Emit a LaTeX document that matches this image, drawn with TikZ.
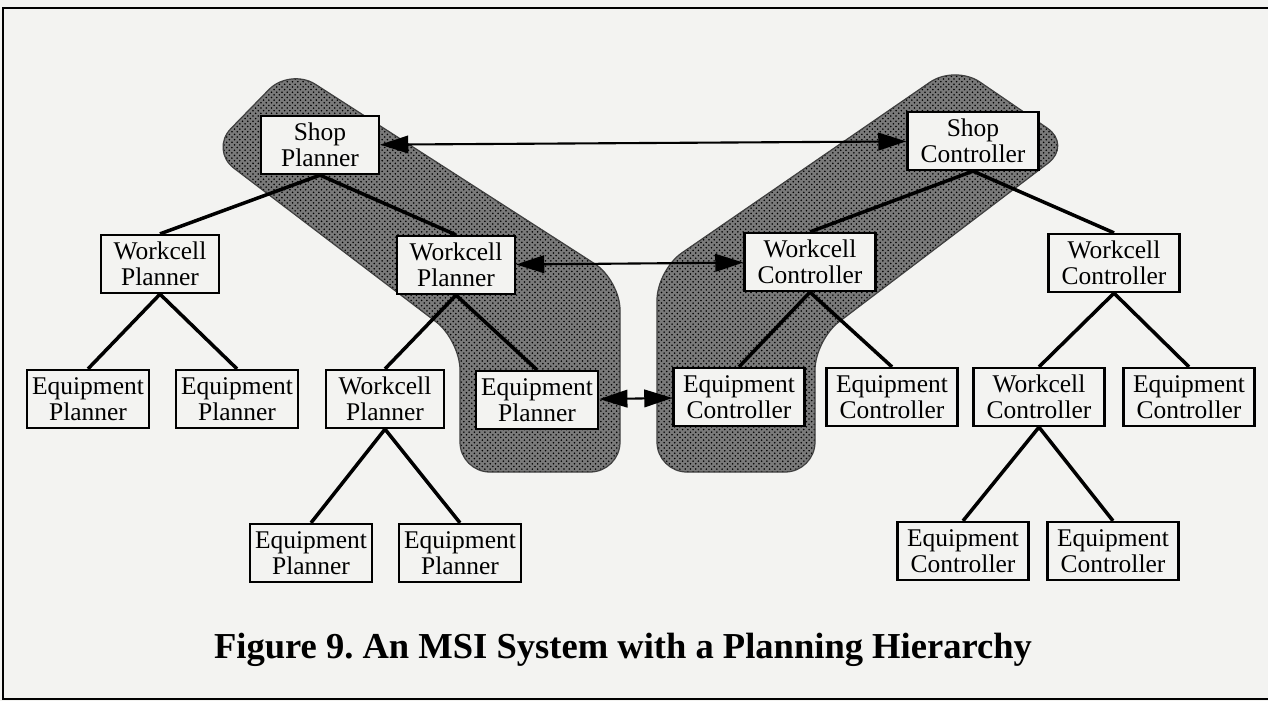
\documentclass[tikz,border=0pt]{standalone}
\usepackage{fontspec}
\setmainfont{Liberation Serif}
\usetikzlibrary{arrows.meta, patterns}
\definecolor{paper}{RGB}{243,243,241}
\tikzset{
    unit/.style={draw, line width=1.3pt, fill=paper, align=center, inner sep=3pt,
        minimum width=2.36cm, minimum height=1.16cm, font=\fontsize{14.5}{14.5}\selectfont},
    ctrlunit/.style={unit, minimum width=2.62cm},
    tree/.style={line width=2pt},
    link/.style={line width=1.2pt, {Triangle[length=16pt,width=10pt]}-{Triangle[length=16pt,width=10pt]}},
    zone/.style={rounded corners=0.6cm}
}

\begin{document}
\begin{tikzpicture}[x=0.02cm, y=-0.02cm]
        \useasboundingbox (0,0) rectangle (1268,701);
        \fill[paper] (0,0) rectangle (1268,701);
        \draw[line width=1.6pt] (1268,8) -- (3,8) -- (3,699) -- (1268,699);

        \fill[zone, black!52] (210,150) -- (290,68) -- (620,280) -- (620,472) -- (460,472) -- (460,340) -- cycle;
        \fill[zone, pattern=crosshatch dots, pattern color=black] (210,150) -- (290,68) -- (620,280) -- (620,472) -- (460,472) -- (460,340) -- cycle;
        \draw[zone, black!75, line width=0.7pt] (210,150) -- (290,68) -- (620,280) -- (620,472) -- (460,472) -- (460,340) -- cycle;
        \fill[zone, black!52] (955,65) -- (1072,145) -- (815,340) -- (815,472) -- (657,472) -- (657,270) -- cycle;
        \fill[zone, pattern=crosshatch dots, pattern color=black] (955,65) -- (1072,145) -- (815,340) -- (815,472) -- (657,472) -- (657,270) -- cycle;
        \draw[zone, black!75, line width=0.7pt] (955,65) -- (1072,145) -- (815,340) -- (815,472) -- (657,472) -- (657,270) -- cycle;

        \node[unit] (shopP) at (320,145) {Shop\\Planner};
        \node[unit] (wcP1) at (160,264) {Workcell\\Planner};
        \node[unit] (wcP2) at (456,265) {Workcell\\Planner};
        \node[unit] (eqP1) at (88,399) {Equipment\\Planner};
        \node[unit] (eqP2) at (237,399) {Equipment\\Planner};
        \node[unit] (wcP3) at (385,399) {Workcell\\Planner};
        \node[unit] (eqP3) at (537,400) {Equipment\\Planner};
        \node[unit] (eqP4) at (311,553) {Equipment\\Planner};
        \node[unit] (eqP5) at (460,553) {Equipment\\Planner};

        \node[ctrlunit] (shopC) at (973,141) {Shop\\Controller};
        \node[ctrlunit] (wcC1) at (810,262) {Workcell\\Controller};
        \node[ctrlunit] (wcC2) at (1114,263) {Workcell\\Controller};
        \node[ctrlunit] (eqC1) at (739,397) {Equipment\\Controller};
        \node[ctrlunit] (eqC2) at (892,397) {Equipment\\Controller};
        \node[ctrlunit] (wcC3) at (1039,397) {Workcell\\Controller};
        \node[ctrlunit] (eqC3) at (1189,397) {Equipment\\Controller};
        \node[ctrlunit] (eqC4) at (963,551) {Equipment\\Controller};
        \node[ctrlunit] (eqC5) at (1113,551) {Equipment\\Controller};

        \draw[tree] (shopP.south) -- (wcP1.north);
        \draw[tree] (shopP.south) -- (wcP2.north);
        \draw[tree] (wcP1.south) -- (eqP1.north);
        \draw[tree] (wcP1.south) -- (eqP2.north);
        \draw[tree] (wcP2.south) -- (wcP3.north);
        \draw[tree] (wcP2.south) -- (eqP3.north);
        \draw[tree] (wcP3.south) -- (eqP4.north);
        \draw[tree] (wcP3.south) -- (eqP5.north);

        \draw[tree] (shopC.south) -- (wcC1.north);
        \draw[tree] (shopC.south) -- (wcC2.north);
        \draw[tree] (wcC1.south) -- (eqC1.north);
        \draw[tree] (wcC1.south) -- (eqC2.north);
        \draw[tree] (wcC2.south) -- (wcC3.north);
        \draw[tree] (wcC2.south) -- (eqC3.north);
        \draw[tree] (wcC3.south) -- (eqC4.north);
        \draw[tree] (wcC3.south) -- (eqC5.north);

        \draw[link] (shopP) -- (shopC);
        \draw[link] (wcP2) -- (wcC1);
        \draw[link] (eqP3) -- (eqC1);

        \node[anchor=base, font=\fontsize{20.8}{24}\selectfont\bfseries\frenchspacing] (caption) at (623,658) {Figure 9. An MSI System with a Planning Hierarchy};
    \end{tikzpicture}
\end{document}
